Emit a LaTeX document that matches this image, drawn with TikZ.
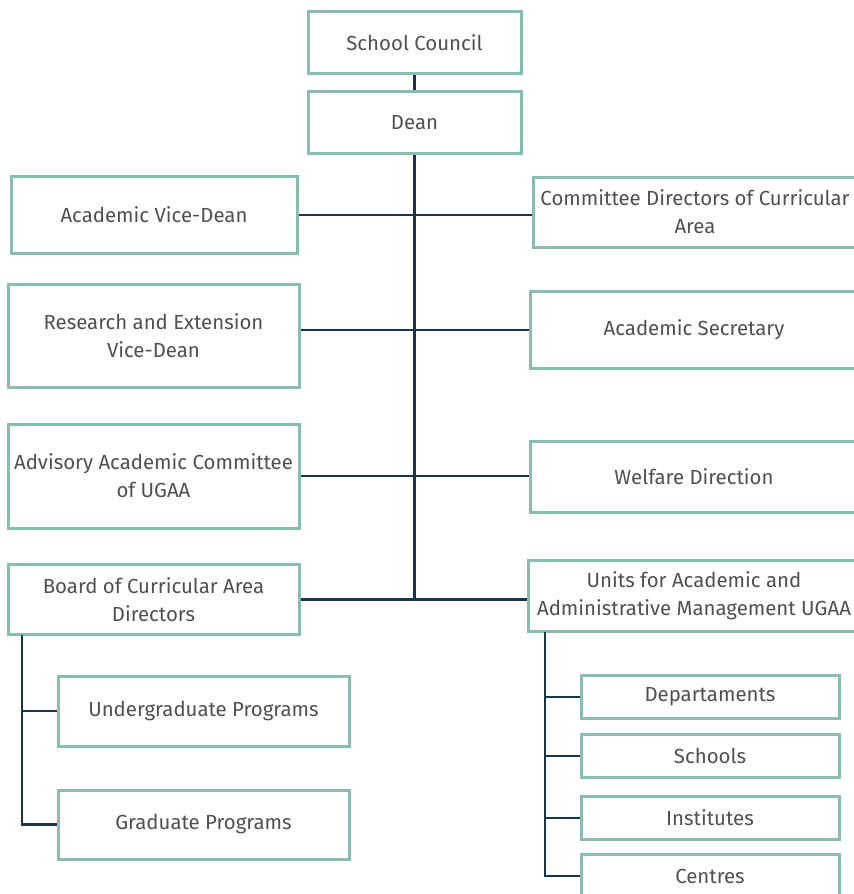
\documentclass[tikz,border=0pt]{standalone}
\usepackage{fontspec}
\setmainfont{Fira Sans}
\definecolor{boxline}{HTML}{8ABDAF}
\definecolor{linkline}{HTML}{17364A}
\definecolor{boxtext}{HTML}{505050}

\begin{document}
\begin{tikzpicture}[x=0.5pt,y=-0.5pt,
        unit/.style={draw=boxline,line width=1.5pt,fill=white,text=boxtext,
            inner sep=0pt,align=center,font=\fontsize{10.2}{14}\selectfont},
        link/.style={draw=linkline,line width=1.4pt}]
        \useasboundingbox (0,0) rectangle (853,894);
        % top of the tree
        \node[unit,minimum width=106.5pt,minimum height=31pt] (council) at (414.5,42.5) {School Council};
        \node[unit,minimum width=106.5pt,minimum height=31pt] (dean) at (414.5,122.5) {Dean};
        % left column
        \node[unit,minimum width=143pt,minimum height=38.5pt] (avd) at (154,215) {Academic Vice-Dean};
        \node[unit,minimum width=145.5pt,minimum height=51.5pt] (revd) at (153.5,335.5) {Research and Extension\\Vice-Dean};
        \node[unit,minimum width=145.5pt,minimum height=52pt] (aac) at (153.5,476) {Advisory Academic Committee\\of UGAA};
        \node[unit,minimum width=145.5pt,minimum height=35pt] (board) at (153.5,599.5) {Board of Curricular Area\\Directors};
        % right column
        \node[unit,minimum width=162pt,minimum height=35pt] (cdca) at (695,212) {Committee Directors of Curricular\\Area};
        \node[unit,minimum width=164pt,minimum height=38.5pt] (asec) at (694,330) {Academic Secretary};
        \node[unit,minimum width=164pt,minimum height=35.5pt] (welf) at (694,476.5) {Welfare Direction};
        \node[unit,minimum width=166pt,minimum height=35.5pt] (ugaa) at (694,596) {Units for Academic and\\Administrative Management UGAA};
        % programs
        \node[unit,minimum width=145.5pt,minimum height=35pt] (under) at (203.5,711) {Undergraduate Programs};
        \node[unit,minimum width=145.5pt,minimum height=34.5pt] (grad) at (203.5,824.5) {Graduate Programs};
        % units
        \foreach \n/\y/\t in {depts/697/Departaments,schools/756/Schools,inst/818/Institutes,centres/876/Centres} {
            \node[unit,minimum width=129pt,minimum height=21.5pt] (\n) at (710,\y) {\t};
        }
        \draw[link] (council) -- (dean);
        \draw[link] (dean.south) -- (dean.south |- board.east);
        \draw[link] (avd.east) -- (avd.east -| cdca.west);
        \draw[link] (asec.west) -- (asec.west -| revd.east);
        \draw[link] (aac.east) -- (aac.east -| welf.west);
        \draw[link] (board.east) -- (board.east -| ugaa.west);
        \coordinate (bstem) at (22,634.5);
        \draw[link] (bstem) |- (grad.west);
        \draw[link] (bstem |- under.west) -- (under.west);
        \coordinate (ustem) at (545,631.5);
        \draw[link] (ustem) |- (centres.west);
        \foreach \n in {depts,schools,inst} {
            \draw[link] (ustem |- \n.west) -- (\n.west);
        }
        \end{tikzpicture}
\end{document}
